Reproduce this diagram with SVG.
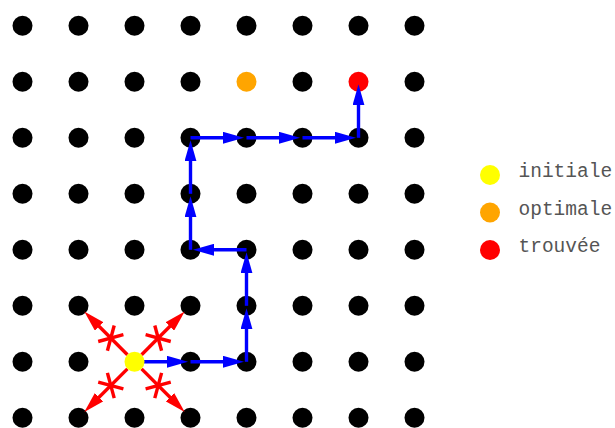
<svg xmlns="http://www.w3.org/2000/svg" xmlns:xlink="http://www.w3.org/1999/xlink" width="615" height="428" viewBox="0 0 615 428">
<style>
.dot{fill:#000}
.blue{stroke:#0000ff;stroke-width:3.4;fill:none}
.red{stroke:#ff0000;stroke-width:3.4;fill:none}
.lbl{font-family:"Liberation Mono","Courier New",monospace;font-size:19.5px;fill:#555}
</style>
<defs>
<marker id="hb" viewBox="0 0 21 12" refX="3" refY="6" markerWidth="21" markerHeight="12" markerUnits="userSpaceOnUse" orient="auto"><path d="M0,0 L21,6 L0,12 z" fill="#0000ff"/></marker>
<marker id="hr" viewBox="0 0 21 12" refX="3" refY="6" markerWidth="21" markerHeight="12" markerUnits="userSpaceOnUse" orient="auto"><path d="M0,0 L21,6 L0,12 z" fill="#ff0000"/></marker>
<g id="redx">
<line class="red" x1="10" y1="0" x2="53" y2="0" marker-end="url(#hr)"/>
<line class="red" x1="27" y1="-11.3" x2="40" y2="11.3"/>
<line class="red" x1="40" y1="-11.3" x2="27" y2="11.3"/>
</g>
</defs>
<g id="grid">
<g id="r0"><circle class="dot" cx="22.5" cy="25.8" r="10"/><circle class="dot" cx="78.5" cy="25.8" r="10"/><circle class="dot" cx="134.5" cy="25.8" r="10"/><circle class="dot" cx="190.5" cy="25.8" r="10"/><circle class="dot" cx="246.5" cy="25.8" r="10"/><circle class="dot" cx="302.5" cy="25.8" r="10"/><circle class="dot" cx="358.5" cy="25.8" r="10"/><circle class="dot" cx="414.5" cy="25.8" r="10"/></g>
<g id="r1"><circle class="dot" cx="22.5" cy="81.8" r="10"/><circle class="dot" cx="78.5" cy="81.8" r="10"/><circle class="dot" cx="134.5" cy="81.8" r="10"/><circle class="dot" cx="190.5" cy="81.8" r="10"/><circle cx="246.5" cy="81.8" r="10" fill="#ffa500"/><circle class="dot" cx="302.5" cy="81.8" r="10"/><circle cx="358.5" cy="81.8" r="10" fill="#ff0000"/><circle class="dot" cx="414.5" cy="81.8" r="10"/></g>
<g id="r2"><circle class="dot" cx="22.5" cy="137.8" r="10"/><circle class="dot" cx="78.5" cy="137.8" r="10"/><circle class="dot" cx="134.5" cy="137.8" r="10"/><circle class="dot" cx="190.5" cy="137.8" r="10"/><circle class="dot" cx="246.5" cy="137.8" r="10"/><circle class="dot" cx="302.5" cy="137.8" r="10"/><circle class="dot" cx="358.5" cy="137.8" r="10"/><circle class="dot" cx="414.5" cy="137.8" r="10"/></g>
<g id="r3"><circle class="dot" cx="22.5" cy="193.8" r="10"/><circle class="dot" cx="78.5" cy="193.8" r="10"/><circle class="dot" cx="134.5" cy="193.8" r="10"/><circle class="dot" cx="190.5" cy="193.8" r="10"/><circle class="dot" cx="246.5" cy="193.8" r="10"/><circle class="dot" cx="302.5" cy="193.8" r="10"/><circle class="dot" cx="358.5" cy="193.8" r="10"/><circle class="dot" cx="414.5" cy="193.8" r="10"/></g>
<g id="r4"><circle class="dot" cx="22.5" cy="249.8" r="10"/><circle class="dot" cx="78.5" cy="249.8" r="10"/><circle class="dot" cx="134.5" cy="249.8" r="10"/><circle class="dot" cx="190.5" cy="249.8" r="10"/><circle class="dot" cx="246.5" cy="249.8" r="10"/><circle class="dot" cx="302.5" cy="249.8" r="10"/><circle class="dot" cx="358.5" cy="249.8" r="10"/><circle class="dot" cx="414.5" cy="249.8" r="10"/></g>
<g id="r5"><circle class="dot" cx="22.5" cy="305.8" r="10"/><circle class="dot" cx="78.5" cy="305.8" r="10"/><circle class="dot" cx="134.5" cy="305.8" r="10"/><circle class="dot" cx="190.5" cy="305.8" r="10"/><circle class="dot" cx="246.5" cy="305.8" r="10"/><circle class="dot" cx="302.5" cy="305.8" r="10"/><circle class="dot" cx="358.5" cy="305.8" r="10"/><circle class="dot" cx="414.5" cy="305.8" r="10"/></g>
<g id="r6"><circle class="dot" cx="22.5" cy="361.8" r="10"/><circle class="dot" cx="78.5" cy="361.8" r="10"/><circle class="dot" cx="190.5" cy="361.8" r="10"/><circle class="dot" cx="246.5" cy="361.8" r="10"/><circle class="dot" cx="302.5" cy="361.8" r="10"/><circle class="dot" cx="358.5" cy="361.8" r="10"/><circle class="dot" cx="414.5" cy="361.8" r="10"/></g>
<g id="r7"><circle class="dot" cx="22.5" cy="417.8" r="10"/><circle class="dot" cx="78.5" cy="417.8" r="10"/><circle class="dot" cx="134.5" cy="417.8" r="10"/><circle class="dot" cx="190.5" cy="417.8" r="10"/><circle class="dot" cx="246.5" cy="417.8" r="10"/><circle class="dot" cx="302.5" cy="417.8" r="10"/><circle class="dot" cx="358.5" cy="417.8" r="10"/><circle class="dot" cx="414.5" cy="417.8" r="10"/></g>
</g>
<g id="connectors">
<g id="rejected">
<use xlink:href="#redx" href="#redx" transform="translate(134.5,361.8) rotate(-135)"/>
<use xlink:href="#redx" href="#redx" transform="translate(134.5,361.8) rotate(-45)"/>
<use xlink:href="#redx" href="#redx" transform="translate(134.5,361.8) rotate(135)"/>
<use xlink:href="#redx" href="#redx" transform="translate(134.5,361.8) rotate(45)"/>
</g>
<g id="path">
<line class="blue" x1="134.5" y1="361.8" x2="170" y2="361.8" marker-end="url(#hb)"/>
<line class="blue" x1="190.5" y1="361.8" x2="226" y2="361.8" marker-end="url(#hb)"/>
<line class="blue" x1="246.5" y1="361.8" x2="246.5" y2="326.3" marker-end="url(#hb)"/>
<line class="blue" x1="246.5" y1="305.8" x2="246.5" y2="270.3" marker-end="url(#hb)"/>
<line class="blue" x1="246.5" y1="249.8" x2="211" y2="249.8" marker-end="url(#hb)"/>
<line class="blue" x1="190.5" y1="249.8" x2="190.5" y2="214.3" marker-end="url(#hb)"/>
<line class="blue" x1="190.5" y1="193.8" x2="190.5" y2="158.3" marker-end="url(#hb)"/>
<line class="blue" x1="190.5" y1="137.8" x2="226" y2="137.8" marker-end="url(#hb)"/>
<line class="blue" x1="246.5" y1="137.8" x2="282" y2="137.8" marker-end="url(#hb)"/>
<line class="blue" x1="302.5" y1="137.8" x2="338" y2="137.8" marker-end="url(#hb)"/>
<line class="blue" x1="358.5" y1="137.8" x2="358.5" y2="102.3" marker-end="url(#hb)"/>
</g>
</g>
<g id="start"><circle cx="134.5" cy="361.8" r="10" fill="#ffff00"/></g>
<g id="legend">
<g id="leg-initiale"><circle cx="490" cy="175" r="10" fill="#ffff00"/><text class="lbl" x="518.5" y="177">initiale</text></g>
<g id="leg-optimale"><circle cx="490" cy="212.5" r="10" fill="#ffa500"/><text class="lbl" x="518.5" y="214.5">optimale</text></g>
<g id="leg-trouvee"><circle cx="490" cy="250" r="10" fill="#ff0000"/><text class="lbl" x="518.5" y="252">trouvée</text></g>
</g>
</svg>
